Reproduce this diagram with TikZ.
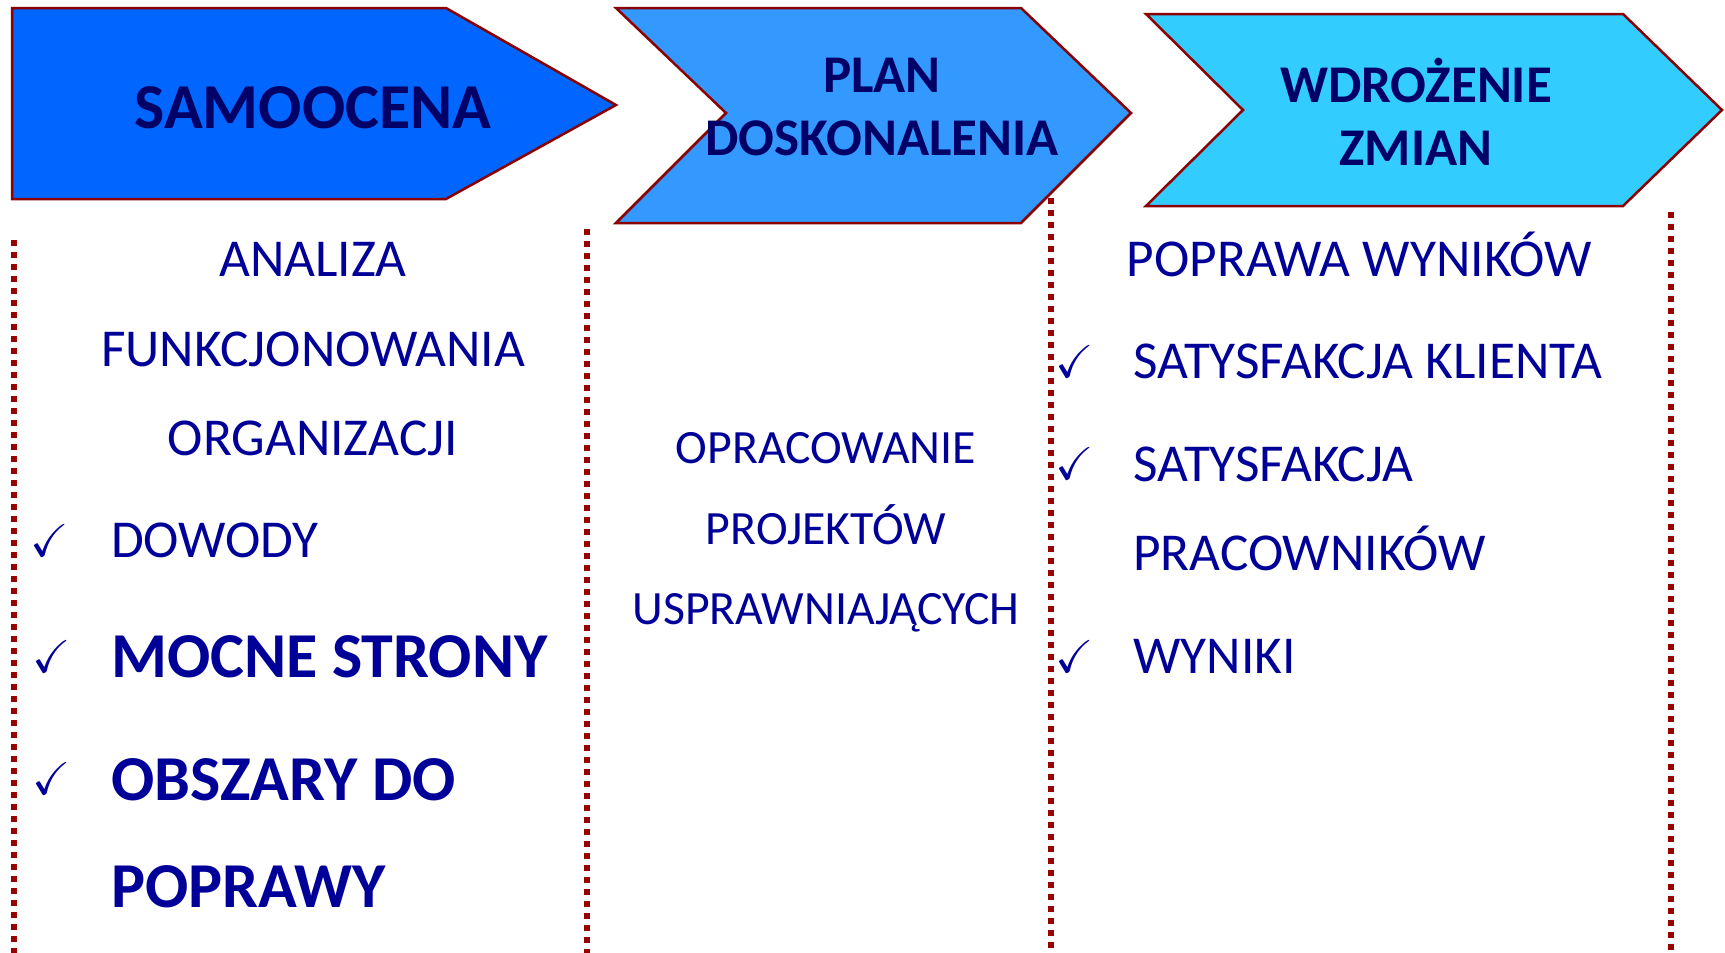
\documentclass[tikz,border=0pt]{standalone}
\usepackage{amssymb}
\usepackage{fontspec}
\setmainfont{Carlito}
\definecolor{borderred}{HTML}{8B0000}
\definecolor{dotred}{HTML}{990000}
\definecolor{fillA}{HTML}{0066FF}
\definecolor{fillB}{HTML}{3399FF}
\definecolor{fillC}{HTML}{33CCFF}
\definecolor{titleblue}{HTML}{000066}
\definecolor{textblue}{HTML}{000099}
\tikzset{
  arrowshape/.style={draw=borderred, line width=2.5pt, line join=miter},
  divider/.style={draw=dotred, line width=6pt, dash pattern=on 6pt off 6pt},
  titletext/.style={text=titleblue, font=\bfseries\fontsize{53}{60}\selectfont, inner sep=0pt, anchor=base},
  bodytext/.style={text=textblue, font=\fontsize{53.3}{60}\selectfont, inner sep=0pt},
  midtext/.style={text=textblue, font=\fontsize{47.8}{54}\selectfont, inner sep=0pt, anchor=base},
  boldtext/.style={text=textblue, font=\bfseries\fontsize{64}{72}\selectfont, inner sep=0pt, anchor=base west},
  tick/.style={text=textblue, font=\fontsize{46}{50}\selectfont, inner sep=0pt, anchor=center},
}
\begin{document}
\begin{tikzpicture}[x=1pt,y=-1pt]
\useasboundingbox (0,0) rectangle (1725,953);
% arrows
\draw[arrowshape, fill=fillA] (12,8) -- (446,8) -- (616,105) -- (446,199) -- (12,199) -- cycle;
\draw[arrowshape, fill=fillB] (616,8) -- (1021,8) -- (1131,113) -- (1021,223) -- (616,223) -- (726,113) -- cycle;
\draw[arrowshape, fill=fillC] (1146,14) -- (1623,14) -- (1722,110) -- (1623,206) -- (1146,206) -- (1243,110) -- cycle;
% titles
\node[titletext, font=\bfseries\fontsize{64}{72}\selectfont] (t1) at (313,128) {SAMOOCENA};
\node[titletext] (t2a) at (882,92) {PLAN};
\node[titletext] (t2b) at (882,155) {DOSKONALENIA};
\node[titletext] (t3a) at (1416,102) {WDROŻENIE};
\node[titletext] (t3b) at (1416,165) {ZMIAN};
% dividers
\coordinate (d1a) at (14,240); \coordinate (d1b) at (14,953);
\coordinate (d2a) at (587,229); \coordinate (d2b) at (587,953);
\coordinate (d3a) at (1051,198); \coordinate (d3b) at (1051,953);
\coordinate (d4a) at (1671,212); \coordinate (d4b) at (1671,953);
\draw[divider] (d1a) -- (d1b);
\draw[divider] (d2a) -- (d2b);
\draw[divider] (d3a) -- (d3b);
\draw[divider] (d4a) -- (d4b);
% column 1
\node[bodytext, anchor=base] (c1a) at (313,276) {ANALIZA};
\node[bodytext, anchor=base] (c1b) at (313,366) {FUNKCJONOWANIA};
\node[bodytext, anchor=base] (c1c) at (313,455) {ORGANIZACJI};
\node[tick] (k1) at (50,541) {$\checkmark$};
\node[bodytext, anchor=base west] (c1d) at (111,557) {DOWODY};
\node[tick] (k2) at (52,657) {$\checkmark$};
\node[boldtext] (c1e) at (111,677) {MOCNE STRONY};
\node[tick] (k3) at (52,779) {$\checkmark$};
\node[boldtext] (c1f) at (111,800) {OBSZARY DO};
\node[boldtext] (c1g) at (111,907) {POPRAWY};
% column 2
\node[midtext] (c2a) at (826,463) {OPRACOWANIE};
\node[midtext] (c2b) at (826,544) {PROJEKTÓW};
\node[midtext] (c2c) at (826,624) {USPRAWNIAJĄCYCH};
% column 3
\node[bodytext, anchor=base] (c3a) at (1359,276) {POPRAWA WYNIKÓW};
\node[tick] (k4) at (1075,362) {$\checkmark$};
\node[bodytext, anchor=base west] (c3b) at (1133,378) {SATYSFAKCJA KLIENTA};
\node[tick] (k5) at (1075,464) {$\checkmark$};
\node[bodytext, anchor=base west] (c3c) at (1133,481) {SATYSFAKCJA};
\node[bodytext, anchor=base west] (c3d) at (1133,570) {PRACOWNIKÓW};
\node[tick] (k6) at (1075,657) {$\checkmark$};
\node[bodytext, anchor=base west] (c3e) at (1133,673) {WYNIKI};
\end{tikzpicture}
\end{document}
